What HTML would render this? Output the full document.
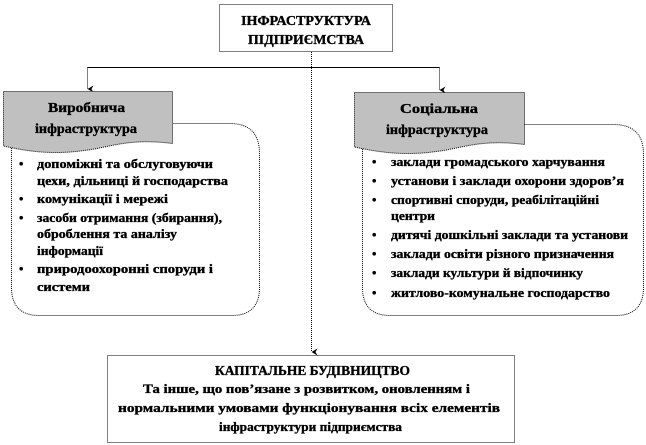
<!DOCTYPE html>
<html><head><meta charset="utf-8">
<style>
html,body{margin:0;padding:0;background:#fff;}
svg{display:block;}
text{font-family:"Liberation Serif","DejaVu Serif",serif;font-weight:bold;fill:#000;stroke:#000;stroke-width:0.35;}
</style></head>
<body>
<svg width="646" height="445" viewBox="0 0 646 445" xmlns="http://www.w3.org/2000/svg">
<defs>
<marker id="ar" markerWidth="8" markerHeight="8" refX="4" refY="7" orient="auto-start-reverse" markerUnits="userSpaceOnUse">
<path d="M0.5,1 L4,7 L7.5,1 L4,3 Z" fill="#000"/>
</marker>
</defs>
<g stroke="#000" fill="none" stroke-width="1">
<rect x="219.5" y="4.5" width="173" height="47" fill="#fff" stroke-dasharray="1,1"/>
<line x1="311.5" y1="52" x2="311.5" y2="352" stroke-dasharray="1,1" marker-end="url(#ar)"/>
<line x1="87.5" y1="67.5" x2="439.5" y2="67.5"/>
<line x1="87.5" y1="67.5" x2="87.5" y2="89" stroke-dasharray="1,1" marker-end="url(#ar)"/>
<line x1="439.5" y1="67.5" x2="439.5" y2="90" stroke-dasharray="1,1" marker-end="url(#ar)"/>
<path d="M11.5,123.5 L229.5,123.5 Q259.5,123.5 259.5,153.5 L259.5,287.5 Q259.5,315.5 231.5,315.5 L39.5,315.5 Q11.5,315.5 11.5,287.5 Z" fill="#fff" stroke-dasharray="1,1"/>
<path d="M3.5,91.5 L172.5,91.5 L172.5,143.5 C130,138 110,147 88,150 C55,155 30,152 3.5,146 Z" fill="#c0c0c0" stroke-dasharray="1,1"/>
<path d="M362.5,124.5 L613.5,124.5 Q643.5,124.5 643.5,154.5 L643.5,287.5 Q643.5,315.5 615.5,315.5 L390.5,315.5 Q362.5,315.5 362.5,287.5 Z" fill="#fff" stroke-dasharray="1,1"/>
<path d="M354.5,92.5 L524.5,92.5 L524.5,144.5 C482,139 462,148 440,151 C407,156 382,153 354.5,147 Z" fill="#c0c0c0" stroke-dasharray="1,1"/>
<rect x="107.5" y="355.5" width="407" height="87" fill="#fff" stroke-dasharray="1,1"/>
</g>

<g font-size="14" lengthAdjust="spacingAndGlyphs">
<text x="241" y="25" textLength="130" lengthAdjust="spacingAndGlyphs">ІНФРАСТРУКТУРА</text>
<text x="248" y="44" textLength="116" lengthAdjust="spacingAndGlyphs">ПІДПРИЄМСТВА</text>
<text x="48" y="112" textLength="77" lengthAdjust="spacingAndGlyphs">Виробнича</text>
<text x="35" y="133" textLength="102" lengthAdjust="spacingAndGlyphs">інфраструктура</text>
<text x="400" y="113" textLength="78" lengthAdjust="spacingAndGlyphs">Соціальна</text>
<text x="386" y="134" textLength="102" lengthAdjust="spacingAndGlyphs">інфраструктура</text>
<text x="215" y="375" textLength="195" lengthAdjust="spacingAndGlyphs">КАПІТАЛЬНЕ  БУДІВНИЦТВО</text>
<text x="143" y="393" font-size="13" textLength="327" lengthAdjust="spacingAndGlyphs">Та інше, що пов’язане з розвитком, оновленням і</text>
<text x="118" y="412" font-size="13" textLength="382" lengthAdjust="spacingAndGlyphs">нормальними умовами функціонування  всіх  елементів</text>
<text x="219" y="431" font-size="13" textLength="183" lengthAdjust="spacingAndGlyphs">інфраструктури  підприємства</text>
</g>

<g font-size="12.5">
<text x="19" y="168">•</text><text x="37" y="168" textLength="176" lengthAdjust="spacingAndGlyphs">допоміжні  та обслуговуючи</text>
<text x="37" y="185" textLength="191" lengthAdjust="spacingAndGlyphs">цехи, дільниці  й господарства</text>
<text x="19" y="203">•</text><text x="37" y="203" textLength="131" lengthAdjust="spacingAndGlyphs">комунікації  і мережі</text>
<text x="19" y="222">•</text><text x="37" y="222" textLength="185" lengthAdjust="spacingAndGlyphs">засоби отримання (збирання),</text>
<text x="37" y="238" textLength="140" lengthAdjust="spacingAndGlyphs">оброблення та аналізу</text>
<text x="37" y="255" textLength="66" lengthAdjust="spacingAndGlyphs">інформації</text>
<text x="19" y="273">•</text><text x="37" y="273" textLength="176" lengthAdjust="spacingAndGlyphs">природоохоронні  споруди і</text>
<text x="37" y="291" textLength="53" lengthAdjust="spacingAndGlyphs">системи</text>

<text x="372" y="166">•</text><text x="391" y="166" textLength="214" lengthAdjust="spacingAndGlyphs">заклади громадського харчування</text>
<text x="372" y="185">•</text><text x="391" y="185" textLength="233" lengthAdjust="spacingAndGlyphs">установи і заклади охорони  здоров’я</text>
<text x="372" y="204">•</text><text x="391" y="204" textLength="208" lengthAdjust="spacingAndGlyphs">спортивні  споруди,  реабілітаційні</text>
<text x="391" y="220" textLength="44" lengthAdjust="spacingAndGlyphs">центри</text>
<text x="372" y="239">•</text><text x="391" y="239" textLength="237" lengthAdjust="spacingAndGlyphs">дитячі дошкільні  заклади та установи</text>
<text x="372" y="258">•</text><text x="391" y="258" textLength="223" lengthAdjust="spacingAndGlyphs">заклади освіти різного  призначення</text>
<text x="372" y="277">•</text><text x="391" y="277" textLength="192" lengthAdjust="spacingAndGlyphs">заклади культури й відпочинку</text>
<text x="372" y="297">•</text><text x="391" y="297" textLength="219" lengthAdjust="spacingAndGlyphs">житлово-комунальне  господарство</text>
</g>
</svg>
</body></html>
